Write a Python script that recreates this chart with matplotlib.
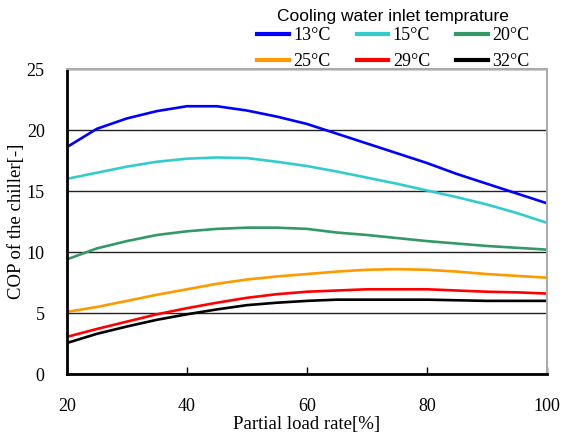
import matplotlib
matplotlib.use("Agg")
import matplotlib.pyplot as plt
from matplotlib.ticker import MultipleLocator

load_rate = [20, 25, 30, 35, 40, 45, 50, 55, 60, 65, 70, 75, 80, 85, 90, 95, 100]

cop_13 = [18.6, 20.1, 20.95, 21.55, 21.95, 21.95, 21.6, 21.1, 20.5, 19.7, 18.9, 18.1, 17.3, 16.4, 15.6, 14.8, 14.0]
cop_15 = [16.0, 16.5, 17.0, 17.4, 17.65, 17.75, 17.7, 17.4, 17.05, 16.6, 16.1, 15.6, 15.05, 14.5, 13.9, 13.2, 12.4]
cop_20 = [9.4, 10.3, 10.9, 11.4, 11.7, 11.9, 12.0, 12.0, 11.9, 11.6, 11.4, 11.15, 10.9, 10.7, 10.5, 10.35, 10.2]
cop_25 = [5.1, 5.5, 6.0, 6.5, 6.95, 7.4, 7.75, 8.0, 8.2, 8.4, 8.55, 8.6, 8.55, 8.4, 8.2, 8.05, 7.9]
cop_29 = [3.05, 3.7, 4.3, 4.9, 5.4, 5.85, 6.25, 6.55, 6.75, 6.85, 6.95, 6.95, 6.95, 6.85, 6.75, 6.7, 6.6]
cop_32 = [2.55, 3.3, 3.9, 4.45, 4.9, 5.3, 5.65, 5.85, 6.0, 6.1, 6.1, 6.1, 6.1, 6.05, 6.0, 6.0, 6.0]

series = [
    ("13°C", cop_13, "#0000ff"),
    ("15°C", cop_15, "#33cccc"),
    ("20°C", cop_20, "#339966"),
    ("25°C", cop_25, "#ff9900"),
    ("29°C", cop_29, "#ff0000"),
    ("32°C", cop_32, "#000000"),
]

serif = "Liberation Serif"
sans = "Liberation Sans"

fig = plt.figure(figsize=(5.62, 4.34), dpi=100)
ax = fig.add_axes([0.119, 0.138, 0.854, 0.703])

for label, values, color in series:
    ax.plot(load_rate, values, color=color, lw=1.9, label=label)

ax.set_xlim(20, 100)
ax.set_ylim(0, 25)
ax.xaxis.set_major_locator(MultipleLocator(20))
ax.yaxis.set_major_locator(MultipleLocator(5))
ax.yaxis.grid(True, color="#222222", lw=1.0)
ax.set_axisbelow(True)

ax.tick_params(axis="x", direction="in", length=5, width=1, pad=17, labelsize=13)
ax.tick_params(axis="y", length=0, pad=16, labelsize=13)
for t in ax.get_xticklabels() + ax.get_yticklabels():
    t.set_fontfamily(serif)

ax.spines["left"].set_linewidth(2)
ax.spines["bottom"].set_linewidth(2)
ax.spines["top"].set_color("#aaaaaa")
ax.spines["right"].set_color("#aaaaaa")
ax.spines["top"].set_linewidth(1.5)
ax.spines["right"].set_linewidth(1.5)

ax.set_xlabel("Partial load rate[%]", fontfamily=serif, fontsize=13.5, labelpad=1)
ax.set_ylabel("COP of the chiller[-]", fontfamily=serif, fontsize=13.5, labelpad=1)

# legend is row-major in the reference, matplotlib fills columns first
handles, labels = ax.get_legend_handles_labels()
order = [0, 3, 1, 4, 2, 5]
leg = fig.legend([handles[i] for i in order], [labels[i] for i in order],
                 ncol=3, loc="upper center",
                 bbox_to_anchor=(0.70, 1.008), frameon=False,
                 prop={"family": serif, "size": 13},
                 handlelength=1.75, handletextpad=0.25, columnspacing=1.45,
                 labelspacing=0.5, borderpad=0.2)
leg.set_title("Cooling water inlet temprature", prop={"family": sans, "size": 12.5})
leg._legend_box.sep = 2
for line in leg.get_lines():
    line.set_linewidth(3)

fig.savefig("out.png", dpi=100)
